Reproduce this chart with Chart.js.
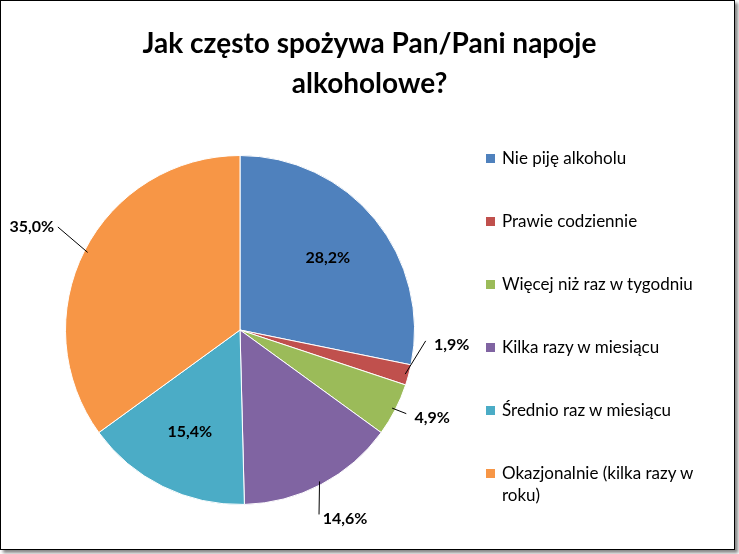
<!DOCTYPE html>
<html><head><meta charset="utf-8">
<script src="https://cdn.jsdelivr.net/npm/chart.js"></script>
<style>
body{margin:0;background:#fff;font-family:Lato,"Open Sans",sans-serif;}
#wrap{position:absolute;left:0;top:0;width:733px;height:548px;border:1px solid #000;box-shadow:3px 3px 3px #888;background:#fff;}
#title{position:absolute;left:0;width:739px;top:22px;text-align:center;font-weight:bold;font-size:28px;line-height:40px;color:#000;}
#legend{position:absolute;left:482px;top:147px;width:245px;font-size:17px;color:#000;}
.li{position:relative;padding-left:20px;height:63px;line-height:22px;}
.sw{position:absolute;left:4px;top:7px;width:9px;height:9px;}
canvas{position:absolute;left:0;top:0;}
</style></head><body>
<div id="wrap"></div>
<canvas id="c" width="739" height="554"></canvas>
<div id="title">Jak często spożywa Pan/Pani napoje<br>alkoholowe?</div>
<div id="legend"></div>
<script>
const categories=["Nie piję alkoholu","Prawie codziennie","Więcej niż raz w tygodniu","Kilka razy w miesiącu","Średnio raz w miesiącu","Okazjonalnie (kilka razy w roku)"];
const values=[28.2,1.9,4.9,14.6,15.4,35.0];
const labels=["28,2%","1,9%","4,9%","14,6%","15,4%","35,0%"];
const colors=["#4F81BD","#C0504D","#9BBB59","#8064A2","#4BACC6","#F79646"];
const outside=[false,true,true,true,false,true];
const lg=document.getElementById('legend');
categories.forEach((c,i)=>{lg.innerHTML+=`<div class="li"><span class="sw" style="background:${colors[i]}"></span>${c}</div>`;});
const lblPlugin={id:'lbl',afterDatasetsDraw(ch){
 const ctx=ch.ctx;const arcs=ch.getDatasetMeta(0).data;
 ctx.save();ctx.font='bold 16px Lato, sans-serif';ctx.fillStyle='#000';ctx.textAlign='center';ctx.textBaseline='middle';
 const fac=[0,1.22,1.2,1.22,0,1.3];
 const dy=[0,-40,-8,0,0,0];
 arcs.forEach((a,i)=>{const m=(a.startAngle+a.endAngle)/2,r=a.outerRadius;
  const cx=Math.cos(m),cy=Math.sin(m);
  if(outside[i]){const f=fac[i];
   const lx=a.x+cx*r*f+(cx>0?6:-6),ly=a.y+cy*r*f+dy[i];
   ctx.strokeStyle='#000';ctx.lineWidth=1;ctx.beginPath();
   ctx.moveTo(a.x+cx*r*0.98,a.y+cy*r*0.98);
   ctx.lineTo(lx+(cx>0?-26:26),ly+(i==5?0:(cy>0?-4:4)));ctx.stroke();
   ctx.fillText(labels[i],lx,ly);
  } else {ctx.fillText(labels[i],a.x+cx*r*0.65,a.y+cy*r*0.65);}
 });ctx.restore();}};
new Chart(document.getElementById('c'),{type:'pie',
 data:{labels:categories,datasets:[{data:values,backgroundColor:colors,borderColor:'#fff',borderWidth:1}]},
 options:{responsive:false,animation:false,layout:{padding:{left:65,right:324,top:155,bottom:49}},
  plugins:{legend:{display:false},tooltip:{enabled:false}}},
 plugins:[lblPlugin]});
</script></body></html>
